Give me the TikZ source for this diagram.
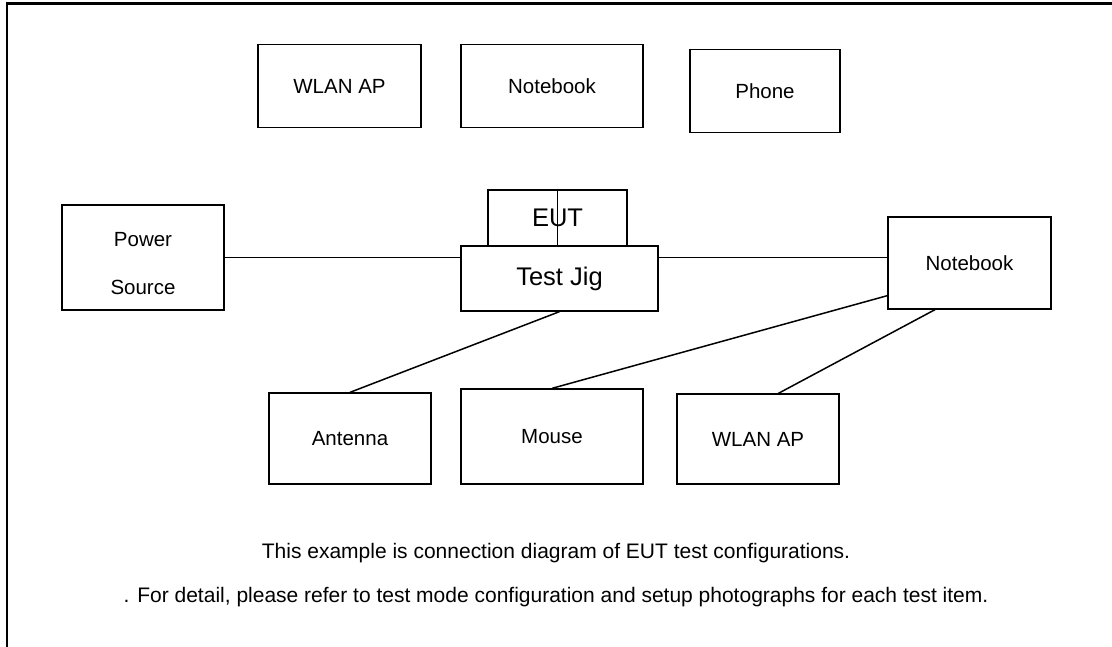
\documentclass[tikz,border=0pt]{standalone}
\usepackage{fontspec}
\setmainfont{Liberation Sans}
\usetikzlibrary{calc}

\begin{document}
\begin{tikzpicture}[x=1pt,y=-1pt,
    unit/.style={draw,line width=1.3pt,inner sep=0pt,font=\fontsize{20.5pt}{24pt}\selectfont},
    bigunit/.style={unit,font=\fontsize{25.5pt}{30pt}\selectfont},
    cable/.style={line width=1.5pt},
    note/.style={font=\fontsize{21pt}{25pt}\selectfont}]
        \useasboundingbox (0,0) rectangle (1112,647);
        \draw[line width=2.6pt] (7,660) -- (7,3.5) -- (1120,3.5);

        % top row
        \node[unit,minimum width=163pt,minimum height=83pt] (wlanTop) at (339.5,86) {WLAN AP};
        \node[unit,minimum width=182pt,minimum height=83pt] (notebookTop) at (552,86) {Notebook};
        \node[unit,minimum width=150pt,minimum height=83pt] (phone) at (765,91) {Phone};

        % EUT on the test jig
        \node[bigunit,minimum width=139pt,minimum height=56pt] (eut) at (557.5,218) {\raisebox{-5pt}{EUT}};
        \node[bigunit,minimum width=197pt,minimum height=65pt,fill=white] (jig) at (559.5,278.5) {\raisebox{-3pt}{Test Jig}};
        \draw[line width=1.3pt] (eut.north) -- (eut.south);

        % middle row
        \node[unit,minimum width=162pt,minimum height=105pt,
              label={[align=center,yshift=-6pt,font=\fontsize{20.5pt}{48pt}\selectfont]center:Power\\Source}] (power) at (143,257.5) {};
        \node[unit,minimum width=163pt,minimum height=92pt] (notebookSide) at (969.5,263) {Notebook};

        % bottom row
        \node[unit,minimum width=162pt,minimum height=91pt] (antenna) at (350,438.5) {Antenna};
        \node[unit,minimum width=182pt,minimum height=95pt] (mouse) at (552,436.5) {Mouse};
        \node[unit,minimum width=162pt,minimum height=90pt] (wlanBottom) at (758,439) {WLAN AP};

        \coordinate (nbLow) at ($(notebookSide.south west)!0.15!(notebookSide.north west)$);
        \coordinate (nbFoot) at ($(notebookSide.south west)!0.29!(notebookSide.south east)$);
        \coordinate (apTop) at ($(wlanBottom.north west)!0.625!(wlanBottom.north east)$);

        \draw[cable] (power.east) -- (power.east -| jig.west);
        \draw[cable] (power.east -| jig.east) -- (power.east -| notebookSide.west);
        \draw[cable] (jig.south) -- (antenna.north);
        \draw[cable] (nbLow) -- (mouse.north);
        \draw[cable] (nbFoot) -- (apTop);

        \node[note] (noteA) at (556,553) {This example is connection diagram of EUT test configurations.};
        \node[note] (noteB) at (556,597) {. For detail, please refer to test mode configuration and setup photographs for each test item.};

    \end{tikzpicture}
\end{document}
